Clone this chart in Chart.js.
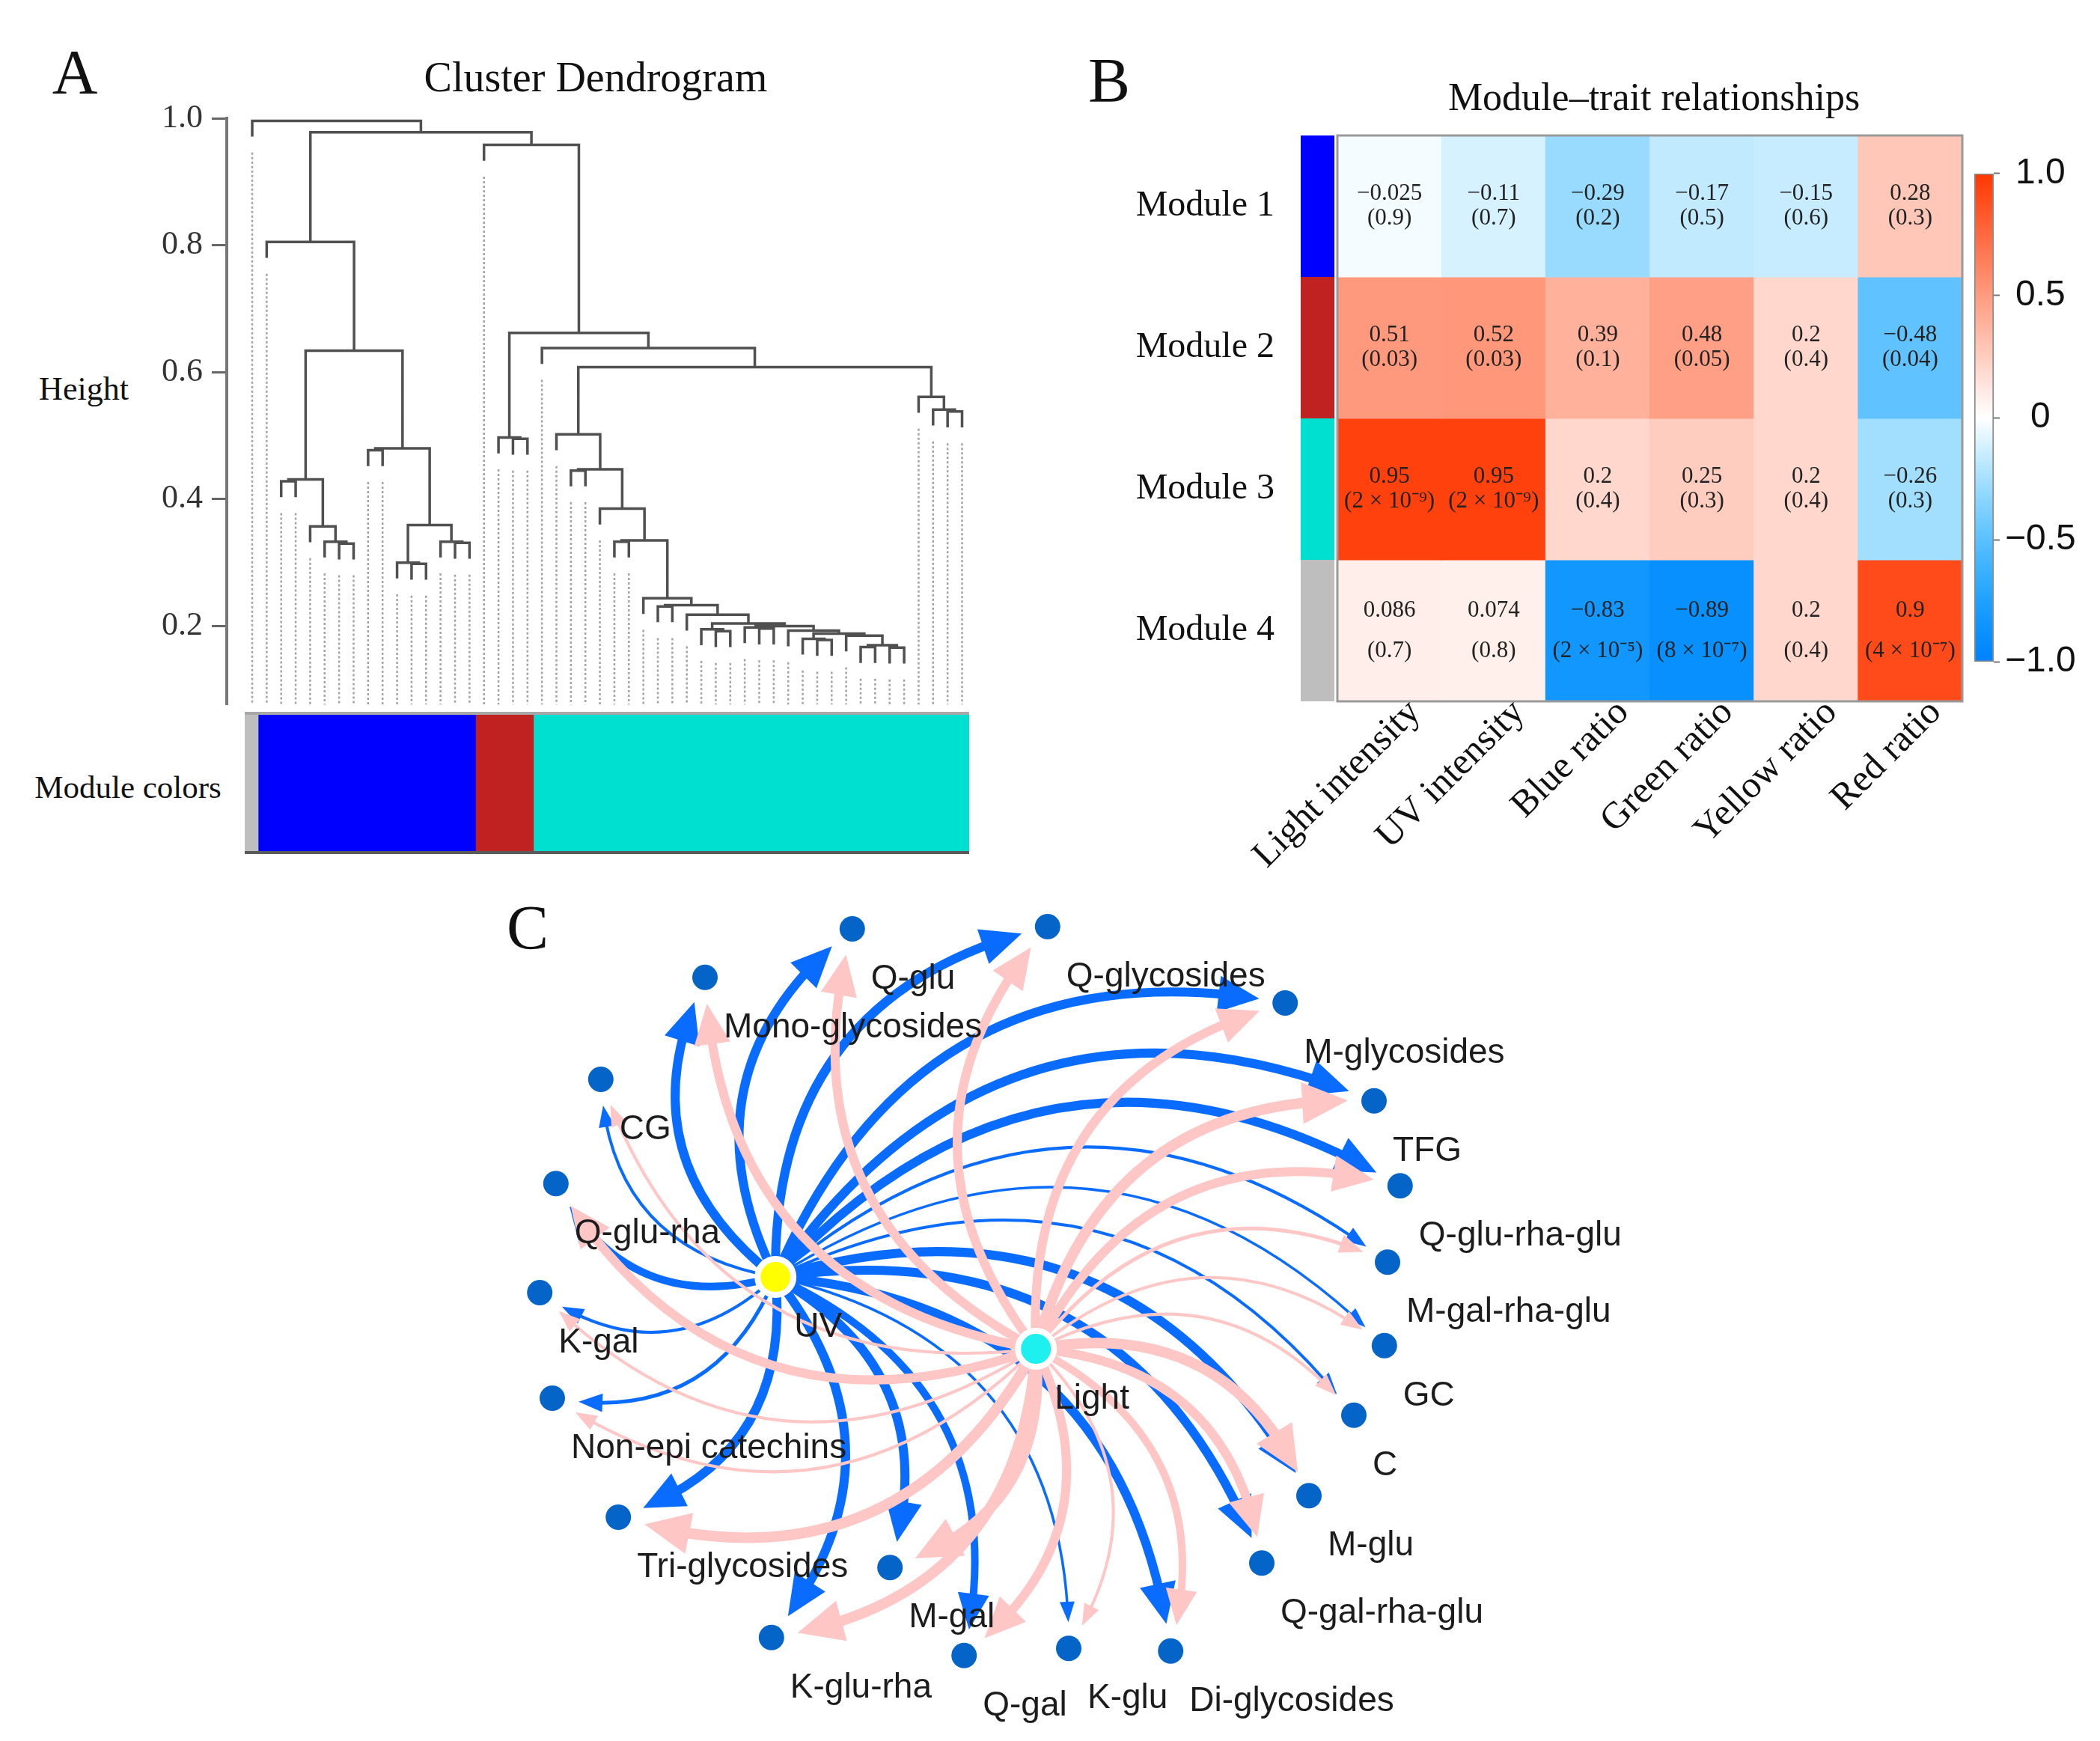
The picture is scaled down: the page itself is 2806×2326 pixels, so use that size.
<!DOCTYPE html>
<html>
<head>
<meta charset="utf-8">
<script src="https://cdn.jsdelivr.net/npm/chart.js@4.4.1/dist/chart.umd.min.js"></script>
<style>
  html, body { margin: 0; padding: 0; background: #fff; }
  #page { position: relative; width: 2806px; height: 2326px; overflow: hidden; background: #fff; }
  canvas { position: absolute; }
  .txt { position: absolute; transform: translate(-50%, -50%); white-space: nowrap;
         font-family: "Liberation Serif", serif; color: #111; line-height: 1; }
</style>
</head>
<body>
<div id="page">
  <div class="txt" style="left:100px;top:97px;font-size:84px">A</div>
  <div class="txt" style="left:796px;top:103px;font-size:56px">Cluster Dendrogram</div>
  <div class="txt" style="left:112px;top:520px;font-size:44px">Height</div>
  <div class="txt" style="left:171px;top:1051px;font-size:43px">Module colors</div>
  <div class="txt" style="left:1482px;top:108px;font-size:84px">B</div>
  <div class="txt" style="left:2210px;top:130px;font-size:52px">Module–trait relationships</div>
  <div class="txt" style="left:705px;top:1240px;font-size:84px">C</div>

  <canvas id="dendro" width="1300" height="980" style="left:0;top:0"></canvas>
  <canvas id="modbar" width="968" height="194" style="left:327px;top:949px"></canvas>
  <canvas id="heat" width="1406" height="1200" style="left:1400px;top:0"></canvas>
  <canvas id="scale" width="206" height="724" style="left:2600px;top:196px"></canvas>
  <canvas id="net" width="1800" height="1176" style="left:600px;top:1150px"></canvas>
</div>
<script>
// ---------- A: dendrogram (hclust style merge table) ----------
const leafCount = 50;
const mergePairs = [[-3,-4],[-7,-8],[-6,2],[-5,3],[1,4],[-9,-10],[-12,-13],[-11,7],[-15,-16],[-14,9],
  [8,10],[6,11],[5,12],[-2,13],[-19,-20],[-18,15],[-23,-24],[-26,-27],[-29,-30],[-33,-34],
  [-32,20],[-36,-37],[-35,22],[-40,-41],[-39,24],[-43,-44],[-45,-46],[26,27],[-42,28],[25,29],
  [-38,30],[23,31],[21,32],[-31,33],[19,34],[-28,35],[18,36],[-25,37],[17,38],[-22,39],
  [-49,-50],[-48,41],[-47,42],[40,43],[-21,44],[16,45],[-17,46],[14,47],[-1,48]];
const mergeHeights = [0.428,0.330,0.333,0.357,0.431,0.477,0.298,0.300,0.331,0.333,
  0.359,0.480,0.634,0.805,0.495,0.497,0.445,0.333,0.231,0.192,
  0.195,0.196,0.198,0.178,0.180,0.167,0.166,0.170,0.185,0.188,
  0.193,0.200,0.204,0.218,0.233,0.244,0.335,0.385,0.447,0.502,
  0.538,0.541,0.561,0.608,0.638,0.662,0.958,0.978,0.996];
const heightTicks = [0.2, 0.4, 0.6, 0.8, 1.0];
const moduleColours = ['#BEBEBE', '#0000FF', '#C02222', '#00E0D0'];
const moduleLeafRuns = [1, 15, 4, 30];

// ---------- B: module-trait table ----------
const traits = ['Light intensity', 'UV intensity', 'Blue ratio', 'Green ratio', 'Yellow ratio', 'Red ratio'];
const modules = ['Module 1', 'Module 2', 'Module 3', 'Module 4'];
const stripColours = ['#0000FF', '#C02222', '#00E0D0', '#BEBEBE'];
const corrM1 = [-0.025, -0.11, -0.29, -0.17, -0.15, 0.28];
const corrM2 = [0.51, 0.52, 0.39, 0.48, 0.2, -0.48];
const corrM3 = [0.95, 0.95, 0.2, 0.25, 0.2, -0.26];
const corrM4 = [0.086, 0.074, -0.83, -0.89, 0.2, 0.9];
const pM1 = [0.9, 0.7, 0.2, 0.5, 0.6, 0.3];
const pM2 = [0.03, 0.03, 0.1, 0.05, 0.4, 0.04];
const pM3 = [2e-9, 2e-9, 0.4, 0.3, 0.4, 0.3];
const pM4 = [0.7, 0.8, 2e-5, 8e-7, 0.4, 4e-7];
const legendTicks = [-1, -0.5, 0, 0.5, 1];

// ---------- C: network ----------
const hubs = ['UV', 'Light'];
const hubX = [-0.433, 0.147];
const hubY = [0.030, -0.130];
const targets = ['Q-glu', 'Q-glycosides', 'Mono-glycosides', 'M-glycosides', 'CG', 'TFG', 'Q-glu-rha',
  'Q-glu-rha-glu', 'K-gal', 'M-gal-rha-glu', 'Non-epi catechins', 'GC', 'Tri-glycosides', 'C', 'M-gal',
  'M-glu', 'K-glu-rha', 'Q-gal-rha-glu', 'Q-gal', 'K-glu', 'Di-glycosides'];
const targetX = [-0.262, 0.173, -0.590, 0.702, -0.822, 0.900, -0.922, 0.958, -0.958, 0.930, -0.930,
  0.923, -0.783, 0.855, -0.178, 0.755, -0.442, 0.650, -0.013, 0.220, 0.447];
const targetY = [0.805, 0.810, 0.697, 0.640, 0.470, 0.422, 0.238, 0.233, -0.005, 0.063, -0.240,
  -0.123, -0.505, -0.278, -0.617, -0.457, -0.773, -0.607, -0.813, -0.797, -0.803];
const uvWeight = [12, 12, 12, 12, 4, 12, 10, 12, 4, 4, 5, 3.5, 12, 4, 12, 12, 12, 12, 10, 3.5, 12];
const lightWeight = [12, 12, 12, 12, 4, 14, 12, 12, 4, 5, 4, 4, 14, 4, 14, 14, 14, 12, 12, 4, 10];

const serif = 'Liberation Serif';
const sans = 'Liberation Sans';
const base = { responsive: false, animation: false, events: [],
  plugins: { legend: { display: false }, tooltip: { enabled: false } } };

// dendrogram links
const hang = 0.025, guideGap = 0.025, heightMin = 0.076;
const nodeX = [], nodeH = [], leafParentH = [];
const links = [];
mergePairs.forEach((pair, r) => {
  const h = mergeHeights[r];
  const ends = pair.map(c => {
    if (c < 0) { leafParentH[-c] = h; return { x: -c, y: h - hang }; }
    return { x: nodeX[c - 1], y: nodeH[c - 1] };
  });
  nodeX[r] = (ends[0].x + ends[1].x) / 2;
  nodeH[r] = h;
  links.push({ x: ends[0].x, y: ends[0].y }, { x: ends[0].x, y: h }, { x: ends[1].x, y: h },
             { x: ends[1].x, y: ends[1].y }, { x: ends[1].x, y: null });
});
const guides = [];
for (let k = 1; k <= leafCount; k++) {
  guides.push({ x: k, y: leafParentH[k] - hang - guideGap }, { x: k, y: heightMin }, { x: k, y: null });
}

new Chart(document.getElementById('dendro'), {
  type: 'scatter',
  data: { datasets: [
    { data: links, showLine: true, borderColor: '#505050', borderWidth: 3.5, pointRadius: 0, spanGaps: false, clip: false },
    { data: guides, showLine: true, borderColor: '#a3a3a3', borderWidth: 2.5, borderDash: [3, 3], pointRadius: 0, spanGaps: false }
  ] },
  options: { ...base,
    layout: { autoPadding: false, padding: { top: 158, right: 5, bottom: 33, left: 0 } },
    scales: {
      x: { type: 'linear', display: false, min: -0.756, max: 50.49 },
      y: { min: heightMin, max: 1.0,
        afterFit: s => { s.width = 303; },
        afterBuildTicks: s => { s.ticks = heightTicks.map(v => ({ value: v })); },
        grid: { drawOnChartArea: false, drawTicks: true, tickLength: 20, tickWidth: 3, tickColor: '#666' },
        border: { display: true, color: '#777', width: 4 },
        ticks: { padding: 12, color: '#333', font: { family: serif, size: 44 }, callback: v => v.toFixed(1) } }
    } }
});

// module colour bar under the dendrogram
const leafModule = [];
moduleLeafRuns.forEach((n, m) => { for (let i = 0; i < n; i++) leafModule.push(m); });
const barEdges = {
  id: 'barEdges',
  afterDatasetsDraw(chart) {
    const { ctx, chartArea: a } = chart;
    ctx.save();
    ctx.lineWidth = 4;
    ctx.strokeStyle = '#a8a8a8';
    ctx.beginPath(); ctx.moveTo(a.left, a.top); ctx.lineTo(a.right, a.top); ctx.stroke();
    ctx.strokeStyle = '#5a5a5a';
    ctx.beginPath(); ctx.moveTo(a.left, a.bottom); ctx.lineTo(a.right, a.bottom); ctx.stroke();
    ctx.restore();
  }
};
new Chart(document.getElementById('modbar'), {
  type: 'bar',
  data: { labels: leafModule.map((m, i) => i + 1),
    datasets: [{ data: leafModule.map(() => 1), backgroundColor: leafModule.map(m => moduleColours[m]),
      barPercentage: 1, categoryPercentage: 1, borderWidth: 0, inflateAmount: 1 }] },
  options: { ...base, layout: { autoPadding: false, padding: { top: 4, bottom: 4, left: 0, right: 0 } },
    scales: { x: { display: false }, y: { display: false, min: 0, max: 1 } } },
  plugins: [barEdges]
});

// ---------- heatmap ----------
function heatColour(v) {
  let r, g, b;
  if (v >= 0) { r = 255; g = 255 - v * 200; b = 255 * (1 - v); }
  else { const a = -v; r = 255 * Math.pow(1 - a, 1.5); g = 255 - a * 125; b = 255; }
  return `rgb(${Math.round(r)},${Math.round(g)},${Math.round(b)})`;
}
const supMap = { '-': '\u207B', '0': '\u2070', '1': '\u00B9', '2': '\u00B2', '3': '\u00B3', '4': '\u2074',
  '5': '\u2075', '6': '\u2076', '7': '\u2077', '8': '\u2078', '9': '\u2079' };
function fmtP(p) {
  if (p >= 0.001) return '(' + p + ')';
  const e = Math.floor(Math.log10(p));
  const m = Math.round(p / Math.pow(10, e));
  return '(' + m + ' \u00D7 10' + String(e).split('').map(c => supMap[c]).join('') + ')';
}
const corrRows = [corrM1, corrM2, corrM3, corrM4];
const pRows = [pM1, pM2, pM3, pM4];
const rowTextGap = [33, 33, 33, 54];

const heatDecor = {
  id: 'heatDecor',
  afterDatasetsDraw(chart) {
    const { ctx, chartArea: a, scales: { x, y } } = chart;
    ctx.save();
    // module colour strip
    modules.forEach((m, i) => {
      const y0 = y.getPixelForValue(i), y1 = y.getPixelForValue(i + 1);
      ctx.fillStyle = stripColours[i];
      ctx.fillRect(a.left - 49, y0, 45, y1 - y0);
    });
    // border
    ctx.strokeStyle = '#9a9a9a';
    ctx.lineWidth = 3;
    ctx.strokeRect(a.left, a.top, a.right - a.left, a.bottom - a.top);
    // cell text
    ctx.fillStyle = '#222';
    ctx.font = `31px "${serif}"`;
    ctx.textAlign = 'center';
    ctx.textBaseline = 'middle';
    corrRows.forEach((row, i) => {
      const cy = y.getPixelForValue(i + 0.5);
      row.forEach((v, j) => {
        const cx = x.getPixelForValue(j);
        ctx.fillText(String(v).replace('-', '\u2212'), cx, cy - rowTextGap[i] / 2);
        ctx.fillText(fmtP(pRows[i][j]), cx, cy + rowTextGap[i] / 2);
      });
    });
    ctx.restore();
  }
};
new Chart(document.getElementById('heat'), {
  type: 'bar',
  data: { labels: traits,
    datasets: corrRows.map((row, i) => ({ label: modules[i], data: traits.map(() => [i, i + 1]),
      backgroundColor: row.map(heatColour), grouped: false, barPercentage: 1, categoryPercentage: 1,
      borderWidth: 0, inflateAmount: 0.5 })) },
  options: { ...base,
    layout: { autoPadding: false, padding: { top: 181, right: 184, bottom: 0, left: 0 } },
    scales: {
      x: { afterFit: s => { s.height = 263; },
        grid: { display: false, drawTicks: false }, border: { display: false },
        ticks: { autoSkip: false, minRotation: 45, maxRotation: 45, padding: -14, labelOffset: 34, color: '#111',
          font: { family: serif, size: 50 } } },
      y: { min: 0, max: 4, reverse: true,
        afterFit: s => { s.width = 387; },
        afterBuildTicks: s => { s.ticks = modules.map((m, i) => ({ value: i + 0.5 })); },
        grid: { display: false, drawTicks: false }, border: { display: false },
        ticks: { padding: 84, color: '#111', font: { family: serif, size: 48 }, callback: (v, i) => modules[i] } }
    } },
  plugins: [heatDecor]
});

// colour legend
new Chart(document.getElementById('scale'), {
  type: 'bar',
  data: { labels: [''], datasets: [{ data: [[-1, 1]], barPercentage: 1, categoryPercentage: 1,
    borderWidth: 2, borderColor: '#8a8a8a', borderSkipped: false,
    backgroundColor: c => {
      const ch = c.chart;
      if (!ch.chartArea) return '#fff';
      const ys = ch.scales.y;
      const g = ch.ctx.createLinearGradient(0, ys.getPixelForValue(1), 0, ys.getPixelForValue(-1));
      for (let i = 0; i <= 40; i++) g.addColorStop(i / 40, heatColour(1 - i / 20));
      return g;
    } }] },
  options: { ...base,
    layout: { autoPadding: false, padding: { top: 30, bottom: 31, left: 38, right: 0 } },
    scales: {
      x: { display: false },
      y: { position: 'right', min: -1, max: 1,
        afterFit: s => { s.width = 142; },
        afterBuildTicks: s => { s.ticks = legendTicks.map(v => ({ value: v })); },
        grid: { drawOnChartArea: false, drawTicks: true, tickLength: 8, tickWidth: 2, tickColor: '#777' },
        border: { display: false },
        ticks: { crossAlign: 'center', padding: 7, color: '#111', font: { family: sans, size: 48 },
          callback: v => v === 0 ? '0' : v.toFixed(1).replace('-', '\u2212') } }
    } }
});

// ---------- network ----------
const edgeCurve = 0.4;
function drawArc(ctx, s, t, w, colour) {
  const dx = t.x - s.x, dy = t.y - s.y;
  const c = { x: (s.x + t.x) / 2 + edgeCurve * dy, y: (s.y + t.y) / 2 - edgeCurve * dx };
  const at = u => ({ x: (1 - u) * (1 - u) * s.x + 2 * u * (1 - u) * c.x + u * u * t.x,
                     y: (1 - u) * (1 - u) * s.y + 2 * u * (1 - u) * c.y + u * u * t.y });
  const dist = (p, q) => Math.hypot(p.x - q.x, p.y - q.y);
  let tipU = 1;
  while (tipU > 0 && dist(at(tipU), t) < 35) tipU -= 0.002;
  const tip = at(tipU);
  const headLen = 16 + 3.2 * w, headHalf = 4 + 1.7 * w;
  let baseU = tipU;
  while (baseU > 0 && dist(at(baseU), tip) < headLen) baseU -= 0.002;
  const bs = at(baseU);
  const endU = baseU + (tipU - baseU) * 0.3;
  const ctrl = { x: s.x + endU * (c.x - s.x), y: s.y + endU * (c.y - s.y) };
  const end = at(endU);
  ctx.strokeStyle = colour;
  ctx.fillStyle = colour;
  ctx.lineWidth = w;
  ctx.lineCap = 'butt';
  ctx.beginPath();
  ctx.moveTo(s.x, s.y);
  ctx.quadraticCurveTo(ctrl.x, ctrl.y, end.x, end.y);
  ctx.stroke();
  const ang = Math.atan2(tip.y - bs.y, tip.x - bs.x);
  const cs = Math.cos(ang), sn = Math.sin(ang);
  ctx.beginPath();
  ctx.moveTo(tip.x, tip.y);
  ctx.lineTo(tip.x - headLen * cs - headHalf * sn, tip.y - headLen * sn + headHalf * cs);
  ctx.lineTo(tip.x - headLen * cs + headHalf * sn, tip.y - headLen * sn - headHalf * cs);
  ctx.closePath();
  ctx.fill();
}
const netDecor = {
  id: 'netDecor',
  beforeDatasetsDraw(chart) {
    const { ctx, scales: { x, y } } = chart;
    ctx.save();
    [[0, uvWeight, '#0A6CFF'], [1, lightWeight, '#FFC6C6']].forEach(([h, weights, colour]) => {
      const s = { x: x.getPixelForValue(hubX[h]), y: y.getPixelForValue(hubY[h]) };
      targets.forEach((name, i) => {
        const t = { x: x.getPixelForValue(targetX[i]), y: y.getPixelForValue(targetY[i]) };
        drawArc(ctx, s, t, weights[i], colour);
      });
    });
    ctx.restore();
  },
  afterDatasetsDraw(chart) {
    const { ctx, scales: { x, y } } = chart;
    ctx.save();
    ctx.font = `46px "${sans}"`;
    ctx.fillStyle = '#1c1c1c';
    ctx.textAlign = 'left';
    ctx.textBaseline = 'middle';
    const put = (name, vx, vy) => ctx.fillText(name, x.getPixelForValue(vx) + 25, y.getPixelForValue(vy) + 67);
    targets.forEach((name, i) => put(name, targetX[i], targetY[i]));
    hubs.forEach((name, i) => put(name, hubX[i], hubY[i]));
    ctx.restore();
  }
};
new Chart(document.getElementById('net'), {
  type: 'scatter',
  data: { datasets: [
    { data: hubX.map((v, i) => ({ x: v, y: hubY[i] })), pointRadius: 24, borderWidth: 8,
      borderColor: '#ffffff', backgroundColor: ['#FFFF00', '#1EF0F0'], clip: false },
    { data: targetX.map((v, i) => ({ x: v, y: targetY[i] })), pointRadius: 17, borderWidth: 0,
      backgroundColor: '#0564C8', clip: false }
  ] },
  options: { ...base, layout: { autoPadding: false, padding: 0 },
    scales: { x: { display: false, min: -1.16, max: 1.84 }, y: { display: false, min: -1.0033, max: 0.9567 } } },
  plugins: [netDecor]
});
</script>
</body>
</html>
